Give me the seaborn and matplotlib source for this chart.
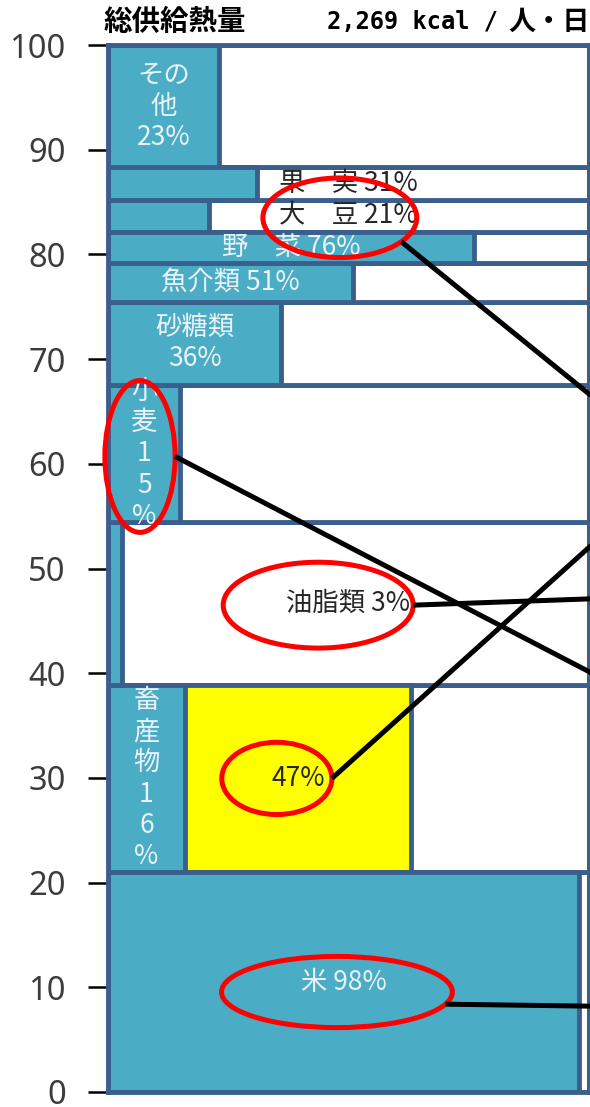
import numpy as np
import pandas as pd
import matplotlib
matplotlib.use("Agg")
import matplotlib.pyplot as plt
from matplotlib.patches import Ellipse
import seaborn as sns

# ---------------- data ----------------
categories = ["米", "畜産物", "油脂類", "小麦", "砂糖類", "魚介類", "野菜", "大豆", "果実", "その他"]
calorie_share = [21.0, 17.9, 15.5, 13.1, 8.0, 3.7, 2.9, 3.1, 3.1, 11.7]   # % of total supply (band height)
self_sufficiency = [98, 16, 3, 15, 36, 51, 76, 21, 31, 23]                  # % (blue width)
feed_free_extra = {"畜産物": 47}                                             # yellow part
labels = ["米 98%", "畜\n産\n物\n1\n6\n%", "油脂類 3%", "小\n麦\n1\n5\n%", "砂糖類\n36%",
          "魚介類 51%", "野　菜 76%", "大　豆 21%", "果　実 31%", "その\n他\n23%"]
label_anchor = ["blue", "blue", "band", "blue", "blue", "blue", "blue", "band", "band", "blue"]
title_left = "総供給熱量"
title_right_num = "2,269 kcal /"
title_right_unit = "人・日"
yticks = list(range(0, 101, 10))

# circled labels and where their link lines leave the picture (y at right edge)
circled = ["大豆", "小麦", "油脂類", "畜産物*", "米"]
link_edge_y = [66.6, 40.1, 47.1, 52.1, 8.2]

# ---------------- style ----------------
navy = "#3B5F8C"
blue = "#4BACC6"
yellow = "#FFFF00"
light_txt = "#EAF4F8"
dark_txt = "#262626"

sns.set_theme(style="white")
plt.rcParams['font.family'] = ['Noto Sans CJK JP', 'DejaVu Sans']

fig = plt.figure(figsize=(5.9, 11.07), dpi=100)
ax = fig.add_axes([108 / 590, 15 / 1107, 481 / 590, 1047 / 1107])

df = pd.DataFrame({"category": categories, "share": calorie_share,
                   "ss": self_sufficiency, "label": labels, "anchor": label_anchor})
edges = [0.0] + [float(v) for v in np.cumsum(calorie_share)]
df["mid"] = [(edges[i] + edges[i + 1]) / 2 for i in range(len(categories))]
df["total"] = 100.0

common = dict(y="mid", stat="count", element="bars", alpha=1,
              edgecolor=navy, linewidth=3.5, ax=ax, legend=False)
# white background cells (full 100%)
sns.histplot(data=df, weights="total", bins=edges, facecolor="white", **common)
# yellow (feed not considered) part
for cat, extra in feed_free_extra.items():
    i = categories.index(cat)
    sub = df.iloc[[i]].copy()
    sub["w"] = sub["ss"] + extra
    sns.histplot(data=sub, weights="w", bins=[edges[i], edges[i + 1]], facecolor=yellow, **common)
# blue self-sufficiency cells
sns.histplot(data=df, weights="ss", bins=edges, facecolor=blue, **common)

ax.set_xlim(0, 100)
ax.set_ylim(0, 100)
ax.set(xlabel="", ylabel="")
ax.set_xticks([])
ax.set_yticks(yticks)
ax.set_yticklabels([str(t) for t in yticks], fontfamily="Noto Sans", fontsize=23.5, color="#3C3C3C")
ax.tick_params(axis="y", left=True, length=14.5, width=1.8, color="black", pad=16)
for s in ax.spines.values():
    s.set_color(navy)
    s.set_linewidth(3.5)

# ---------------- labels ----------------
label_pos = {}
for i, r in df.iterrows():
    if r["anchor"] == "blue":
        x, col = r["ss"] / 2, light_txt
    else:
        x, col = 50, dark_txt
    y = r["mid"]
    ax.text(x, y, r["label"], ha="center", va="center", fontsize=19, color=col,
            linespacing=1.2, zorder=5)
    label_pos[r["category"]] = (x, y)
for cat, extra in feed_free_extra.items():
    i = categories.index(cat)
    x = self_sufficiency[i] + extra / 2
    y = df["mid"][i]
    ax.text(x, y, f"{extra}%", ha="center", va="center", fontsize=19, color=dark_txt, zorder=5)
    label_pos[cat + "*"] = (x, y)

# ellipses (size in data units, offset from label centre) and link lines
ell_size = {"大豆": (32, 7.6), "小麦": (14.6, 14.5), "油脂類": (39.5, 8.2), "畜産物*": (22.9, 6.9), "米": (48, 6.8)}
ell_off = {"大豆": (-1.8, -0.15), "小麦": (-0.85, -0.25), "油脂類": (-6.3, -0.15), "畜産物*": (-4.4, 0.0), "米": (-1.4, -0.95)}
start_ang = {"大豆": -37, "小麦": 0, "油脂類": 0, "畜産物*": 0, "米": -20}
for key, ye in zip(circled, link_edge_y):
    lx, ly = label_pos[key]
    cx, cy = lx + ell_off[key][0], ly + ell_off[key][1]
    w, h = ell_size[key]
    ax.add_patch(Ellipse((cx, cy), w, h, fill=False, edgecolor="#FF0000", linewidth=3.6,
                         zorder=7, clip_on=False))
    th = np.deg2rad(start_ang[key])
    sx, sy = cx + w / 2 * np.cos(th), cy + h / 2 * np.sin(th)
    xe = 100.2
    slope = (ye - sy) / (xe - sx)
    x2 = 104
    ax.plot([sx, x2], [sy, sy + slope * (x2 - sx)], color="black", linewidth=3.6,
            solid_capstyle="butt", zorder=8, clip_on=False)

# ---------------- title ----------------
ty = 1 - 22 / 1107
fig.text(104 / 590, ty, title_left, ha="left", va="center", fontsize=20.5,
         fontweight="bold", color="black")
fig.text(327 / 590, ty, title_right_num, ha="left", va="center", fontsize=17,
         fontweight="bold", family=["DejaVu Sans Mono", "Noto Sans CJK JP"], color="black")
fig.text(508 / 590, ty, title_right_unit, ha="left", va="center", fontsize=19.5,
         fontweight="bold", color="black")

fig.savefig("out.png", dpi=100)
